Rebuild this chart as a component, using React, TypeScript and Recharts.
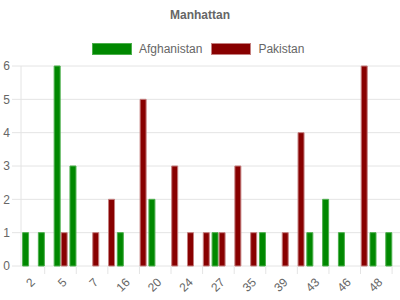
import { BarChart, Bar, XAxis, YAxis, CartesianGrid } from 'recharts'

// category labels (every other one is skipped on the axis)
const categories = ['2', '3', '5', '6', '7', '12', '16', '18', '20', '22', '24', '26', '27', '30', '35', '37', '39', '41', '43', '45', '46', '47', '48', '49']
const afghanistan = [1, 1, 6, 3, 0, 0, 1, 0, 2, 0, 0, 0, 1, 0, 0, 1, 0, 0, 1, 2, 1, 0, 1, 1]
const pakistan = [0, 0, 1, 0, 1, 2, 0, 5, 0, 3, 1, 1, 1, 3, 1, 0, 1, 4, 0, 0, 0, 6, 0, 0]
const yTicks = [0, 1, 2, 3, 4, 5, 6]

const data = categories.map((c, i) => ({
  name: c,
  Afghanistan: afghanistan[i],
  Pakistan: pakistan[i],
}))

const FONT = 'Arial, "Liberation Sans", Helvetica, sans-serif'
const TEXT = '#666'
const GRID = '#e4e4e4'

// label on even categories, tick mark on odd ones
const XTick = (props: any) => {
  const { x, y, payload, index } = props
  if (index % 2 === 1) {
    return <line x1={x} x2={x} y1={y} y2={y + 8} stroke={GRID} />
  }
  const ax = x + 4
  const ay = y + 14
  return (
    <text
      x={ax}
      y={ay}
      textAnchor="end"
      fill={TEXT}
      fontSize={12}
      fontFamily={FONT}
      dy="0.35em"
      transform={`rotate(-45, ${ax}, ${ay})`}
    >
      {payload.value}
    </text>
  )
}

export default function App() {
  return (
    <div style={{ position: 'relative', width: 400, height: 300, fontFamily: FONT }}>
      <style>{`body{margin:0}`}</style>
      <div
        style={{
          position: 'absolute',
          top: 8,
          left: 0,
          width: 400,
          textAlign: 'center',
          fontSize: 12,
          fontWeight: 'bold',
          color: TEXT,
        }}
      >
        Manhattan
      </div>
      <div
        style={{
          position: 'absolute',
          top: 42,
          left: 92,
          display: 'flex',
          alignItems: 'center',
          fontSize: 12,
          color: TEXT,
          lineHeight: '14px',
        }}
      >
        <span style={{ width: 38, height: 10, background: '#008800', border: '1px solid #4caf4c', display: 'inline-block' }} />
        <span style={{ marginLeft: 7, marginRight: 9 }}>Afghanistan</span>
        <span style={{ width: 38, height: 10, background: '#880000', border: '1px solid #c47f7f', display: 'inline-block' }} />
        <span style={{ marginLeft: 7 }}>Pakistan</span>
      </div>
      <BarChart
        width={400}
        height={300}
        data={data}
        margin={{ top: 66, right: 0, left: 0, bottom: 0 }}
        barCategoryGap="10%"
        barGap={1}
      >
        <CartesianGrid vertical={false} stroke={GRID} />
        <YAxis
          width={21}
          domain={[0, 6]}
          ticks={yTicks}
          interval={0}
          tickSize={9}
          tickMargin={2}
          stroke={GRID}
          tick={{ fill: TEXT, fontSize: 12, fontFamily: FONT }}
        />
        <XAxis
          dataKey="name"
          height={34}
          interval={0}
          axisLine={false}
          tickLine={false}
          tickSize={0}
          tickMargin={0}
          tick={<XTick />}
        />
        <Bar dataKey="Afghanistan" fill="#008800" stroke="#4caf4c" strokeWidth={1} isAnimationActive={false} />
        <Bar dataKey="Pakistan" fill="#880000" stroke="#c47f7f" strokeWidth={1} isAnimationActive={false} />
      </BarChart>
    </div>
  )
}
